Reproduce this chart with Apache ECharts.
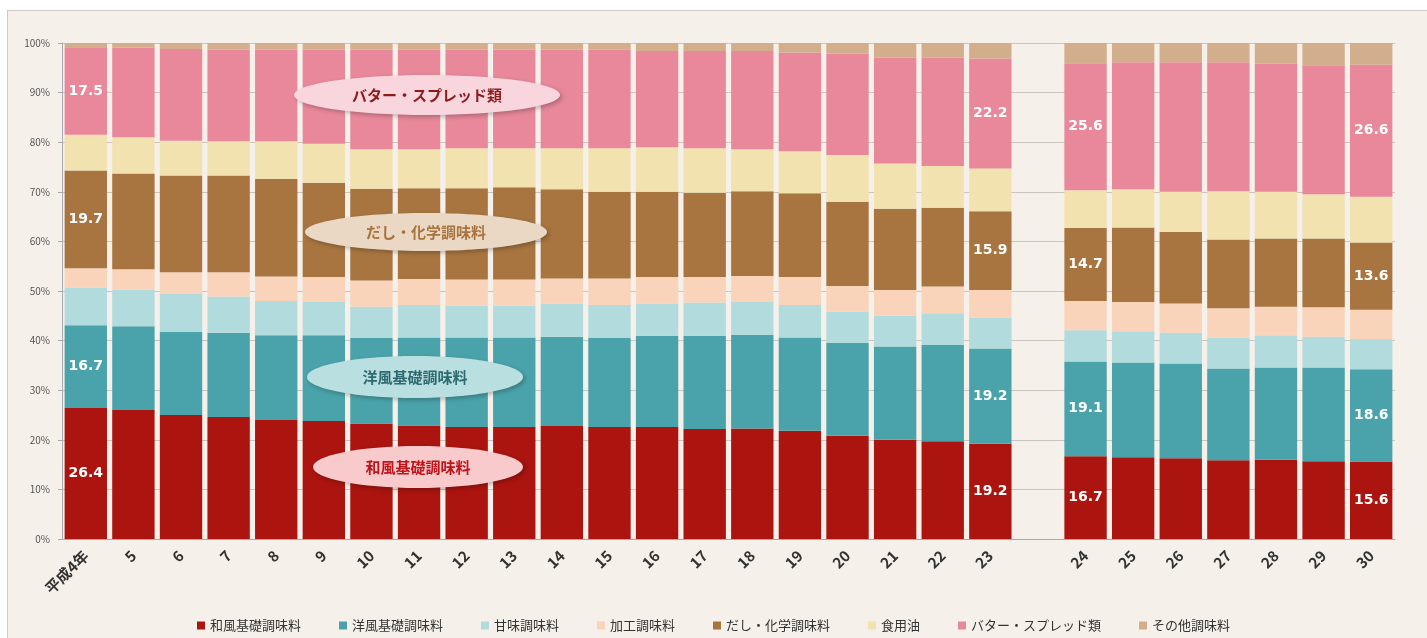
<!DOCTYPE html>
<html>
<head>
<meta charset="utf-8">
<script src="https://cdn.jsdelivr.net/npm/echarts@6/dist/echarts.min.js"></script>
<style>
  html, body { margin: 0; padding: 0; background: #fff; }
  .frame {
    position: absolute; left: 7px; top: 10px; width: 1430px; height: 640px;
    background: #f6f0ea; border: 1px solid #cfcac5;
  }
  #chart { position: absolute; left: 0; top: 0; width: 1427px; height: 638px; }
</style>
</head>
<body>
<div class="frame"></div>
<div id="chart"></div>
<script>
// 年度 (平成)、23と24の間は空き
const years = ['平成4年', '5', '6', '7', '8', '9', '10', '11', '12', '13', '14', '15', '16', '17', '18', '19', '20', '21', '22', '23', '', '24', '25', '26', '27', '28', '29', '30'];

const names = ['和風基礎調味料', '洋風基礎調味料', '甘味調味料', '加工調味料', 'だし・化学調味料', '食用油', 'バター・スプレッド類', 'その他調味料'];
const colors = ['#ab140f', '#4aa3aa', '#b2dbdd', '#f9d4bb', '#a87540', '#f2e2b0', '#e8889a', '#d2ae8c'];

const wafu    = [26.4, 26.0, 25.0, 24.6, 24.0, 23.8, 23.3, 22.9, 22.6, 22.6, 22.8, 22.6, 22.6, 22.2, 22.3, 21.8, 20.8, 20.0, 19.7, 19.2, '-', 16.7, 16.5, 16.3, 15.9, 16.0, 15.7, 15.6];
const yofu    = [16.7, 16.9, 16.8, 17.0, 17.1, 17.3, 17.2, 17.7, 18.0, 18.0, 18.0, 17.9, 18.4, 18.8, 18.9, 18.8, 18.7, 18.8, 19.4, 19.2, '-', 19.1, 19.1, 19.1, 18.5, 18.6, 18.9, 18.6];
const amami   = [7.6, 7.4, 7.6, 7.3, 6.9, 6.7, 6.3, 6.6, 6.4, 6.5, 6.7, 6.7, 6.5, 6.7, 6.6, 6.6, 6.3, 6.2, 6.4, 6.2, '-', 6.3, 6.3, 6.2, 6.2, 6.5, 6.2, 6.1];
const kako    = [3.9, 4.1, 4.4, 4.9, 4.9, 5.0, 5.3, 5.2, 5.3, 5.2, 5.0, 5.3, 5.3, 5.1, 5.2, 5.6, 5.2, 5.2, 5.4, 5.6, '-', 5.9, 5.9, 5.9, 5.9, 5.7, 5.9, 5.9];
const dashi   = [19.7, 19.3, 19.5, 19.5, 19.7, 19.0, 18.5, 18.3, 18.4, 18.6, 18.0, 17.5, 17.2, 17.0, 17.1, 16.9, 17.0, 16.4, 15.9, 15.9, '-', 14.7, 15.0, 14.4, 13.9, 13.8, 13.9, 13.6];
const oil     = [7.2, 7.3, 7.0, 6.9, 7.6, 7.9, 8.0, 7.9, 8.1, 7.9, 8.3, 8.8, 9.0, 9.0, 8.5, 8.5, 9.4, 9.1, 8.4, 8.6, '-', 7.6, 7.7, 8.1, 9.7, 9.4, 8.9, 9.2];
const butter  = [17.5, 18.1, 18.5, 18.5, 18.5, 19.0, 20.1, 20.1, 19.9, 19.9, 19.9, 19.9, 19.4, 19.6, 19.8, 19.9, 20.5, 21.4, 21.9, 22.2, '-', 25.6, 25.6, 26.1, 26.0, 25.8, 26.0, 26.6];
const sonota  = [1.0, 0.9, 1.2, 1.3, 1.3, 1.3, 1.3, 1.3, 1.3, 1.3, 1.3, 1.3, 1.6, 1.6, 1.6, 1.9, 2.1, 2.9, 2.9, 3.1, '-', 4.1, 3.9, 3.9, 3.9, 4.2, 4.5, 4.4];

const seriesData = [wafu, yofu, amami, kako, dashi, oil, butter, sonota];
// 数値ラベルを出す系列と年度
const labeledSeries = [0, 1, 4, 6];
const labeledIdx = [0, 19, 21, 27];

const callouts = [
  { text: 'バター・スプレッド類', x: 427, y: 95, rx: 133, ry: 20, fill: '#f9d6de', color: '#8e1b1b' },
  { text: 'だし・化学調味料', x: 426, y: 232, rx: 121, ry: 19, fill: '#ead8c5', color: '#a8743e' },
  { text: '洋風基礎調味料', x: 415, y: 377, rx: 108, ry: 21, fill: '#b9dfe1', color: '#2f6a70' },
  { text: '和風基礎調味料', x: 418, y: 467, rx: 105, ry: 21, fill: '#f8cacc', color: '#c0141a' }
];

const chart = echarts.init(document.getElementById('chart'));

const series = seriesData.map((arr, si) => ({
  name: names[si],
  type: 'bar',
  stack: 'total',
  barCategoryGap: '11%',
  itemStyle: { color: colors[si] },
  label: {
    show: false,
    position: 'inside',
    color: '#fff',
    fontFamily: 'DejaVu Sans',
    fontWeight: 'bold',
    fontSize: 14
  },
  data: arr.map((v, i) => {
    if (labeledSeries.includes(si) && labeledIdx.includes(i)) {
      return { value: v, label: { show: true } };
    }
    return v;
  })
}));

const graphic = [];
callouts.forEach(c => {
  graphic.push({
    type: 'ellipse',
    shape: { cx: c.x, cy: c.y, rx: c.rx, ry: c.ry },
    style: {
      fill: c.fill,
      shadowBlur: 4,
      shadowOffsetX: 2,
      shadowOffsetY: 2,
      shadowColor: 'rgba(0,0,0,0.25)'
    },
    z: 100
  });
  graphic.push({
    type: 'text',
    x: c.x,
    y: c.y,
    style: {
      text: c.text,
      fill: c.color,
      font: 'bold 15px "Noto Sans CJK JP"',
      textAlign: 'center',
      textVerticalAlign: 'middle'
    },
    z: 101
  });
});

chart.setOption({
  animation: false,
  textStyle: { fontFamily: '"Noto Sans CJK JP", sans-serif' },
  grid: { left: 62, right: 32, top: 43, bottom: 99 },
  legend: {
    data: names,
    bottom: 1,
    left: 'center',
    icon: 'rect',
    itemWidth: 8,
    itemHeight: 8,
    itemGap: 38,
    textStyle: { fontSize: 13, color: '#333' }
  },
  xAxis: {
    type: 'category',
    data: years,
    axisLine: { lineStyle: { color: '#a9a9a9' } },
    axisTick: { lineStyle: { color: '#a9a9a9' }, length: 5 },
    axisLabel: {
      interval: 0,
      rotate: 45,
      color: '#333',
      fontWeight: 'bold',
      fontSize: 15,
      margin: 14
    }
  },
  yAxis: {
    type: 'value',
    min: 0,
    max: 100,
    interval: 10,
    axisLine: { show: true, lineStyle: { color: '#a9a9a9' } },
    axisTick: { show: true, lineStyle: { color: '#a9a9a9' }, length: 4 },
    axisLabel: { formatter: '{value}%', color: '#555', fontSize: 10, margin: 12 },
    splitLine: { lineStyle: { color: '#c9c4bf' } }
  },
  series: series,
  graphic: graphic
});
</script>
</body>
</html>
